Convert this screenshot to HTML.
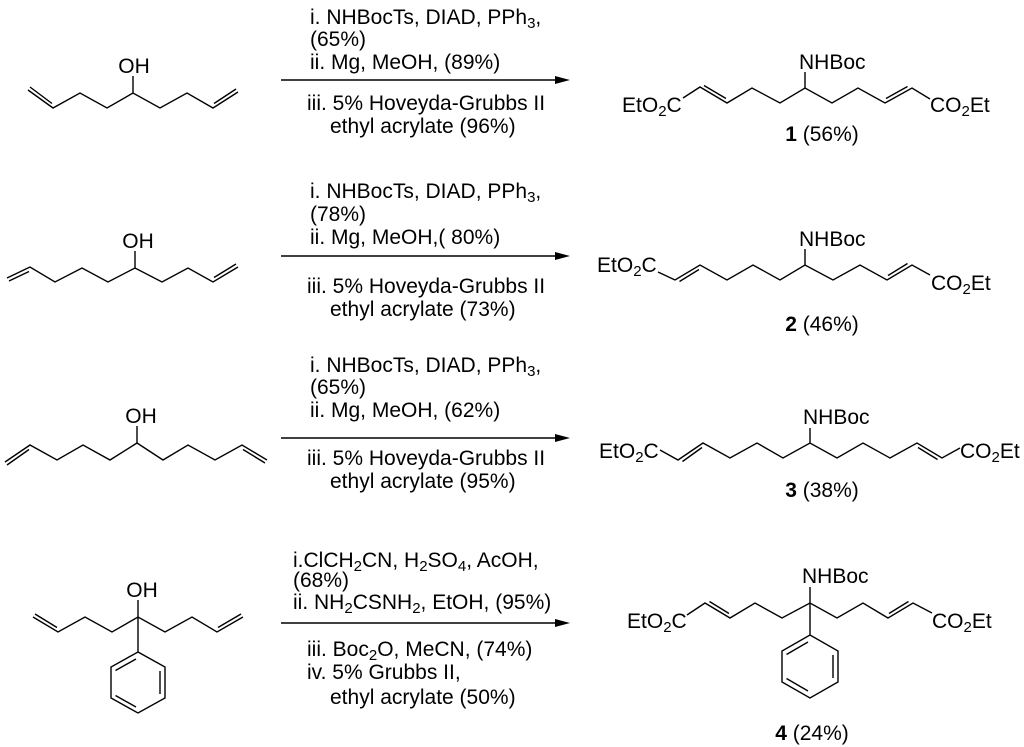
<!DOCTYPE html>
<html><head><meta charset="utf-8"><style>
html,body{margin:0;padding:0;background:#fff;}
svg{display:block;}
text{font-family:"Liberation Sans",Arial,sans-serif;fill:#000;}
.s{font-size:21px;}
.r{font-size:21px;}
.b{font-weight:bold;}
</style></head><body>
<svg width="1024" height="747" viewBox="0 0 1024 747" xmlns="http://www.w3.org/2000/svg">
<g fill="none" stroke="#000" stroke-width="1.4" stroke-linejoin="miter">
<polyline points="28,90 53,108 80,93 107,108 133,93 160,108 187,93 213,108 238,92"/>
<line x1="30" y1="87" x2="52" y2="103.5"/>
<line x1="214" y1="103.5" x2="236" y2="89"/>
<line x1="133" y1="93" x2="133" y2="76"/>
<polyline points="7,278 30,267 55,282 82,268 108,282 135,268 162,282 188,268 213,282 238,267"/>
<line x1="9" y1="281" x2="29" y2="271.5"/>
<line x1="214" y1="277.5" x2="236" y2="264"/>
<line x1="135" y1="268" x2="135" y2="251"/>
<polyline points="5,462 30,445 57,460 83,445 110,460 137,443 163,460 188,445 215,460 242,445 267,460"/>
<line x1="7" y1="465" x2="29" y2="449.5"/>
<line x1="243" y1="449.5" x2="265" y2="463"/>
<line x1="137" y1="443" x2="137" y2="426"/>
<polyline points="33,617 58,632 85,617 112,632 138,617 165,632 192,617 217,632 243,617"/>
<line x1="35" y1="614" x2="57" y2="627.5"/>
<line x1="218" y1="627.5" x2="241" y2="614"/>
<line x1="138" y1="617" x2="138" y2="600"/>
<line x1="138" y1="617" x2="138" y2="652"/>
<polygon points="138,652 165,667 165,698 138,713 111,698 111,667"/>
<line x1="115.5" y1="670.5" x2="136" y2="659"/>
<line x1="160" y1="671" x2="160" y2="694"/>
<line x1="115.5" y1="695.5" x2="136" y2="707"/>

<polyline points="683,98 700,87 727,103 752,88 780,103 805,88 832,103 858,88 885,103 912,88 930,99"/>
<line x1="704" y1="85.5" x2="726" y2="98.5"/>
<line x1="886" y1="98.5" x2="907.5" y2="86.5"/>
<line x1="805" y1="88" x2="805" y2="72"/>
<polyline points="658,272 675,280 700,265 727,280 753,265 780,280 805,265 833,280 860,265 887,280 912,265 930,275"/>
<line x1="679.5" y1="281.5" x2="699" y2="269.5"/>
<line x1="888" y1="275.5" x2="907.5" y2="263.5"/>
<line x1="805" y1="265" x2="805" y2="249"/>
<polyline points="660,450 678,460 703,443 730,458 757,443 783,458 810,443 837,458 863,443 890,458 917,443 942,458 960,448"/>
<line x1="682.5" y1="461.5" x2="702" y2="447.5"/>
<line x1="918" y1="447.5" x2="937.5" y2="459.5"/>
<line x1="810" y1="443" x2="810" y2="428"/>
<polyline points="687,615 705,603 730,618 755,603 782,618 810,603 837,618 863,603 888,618 913,603 932,613"/>
<line x1="709.5" y1="601.5" x2="729" y2="613.5"/>
<line x1="889" y1="613.5" x2="908.5" y2="601.5"/>
<line x1="810" y1="603" x2="810" y2="587"/>
<line x1="810" y1="603" x2="810" y2="635"/>
<polygon points="810,635 838,651 838,682 810,698 782,682 782,651"/>
<line x1="786.5" y1="654.5" x2="808" y2="642"/>
<line x1="833" y1="655" x2="833" y2="678"/>
<line x1="786.5" y1="678.5" x2="808" y2="691"/>

<line x1="281" y1="80" x2="558" y2="80"/>
<line x1="281" y1="256" x2="558" y2="256"/>
<line x1="281" y1="438" x2="558" y2="438"/>
<line x1="281" y1="623" x2="558" y2="623"/>
</g>
<g fill="#000">
<polygon points="570,80 555,76 555,84"/>
<polygon points="570,256 555,252 555,260"/>
<polygon points="570,438 555,434 555,442"/>
<polygon points="570,623 555,619 555,627"/>
</g>

<text class="s" x="134" y="73" text-anchor="middle">OH</text>
<text class="s" x="138" y="248" text-anchor="middle">OH</text>
<text class="s" x="141" y="423" text-anchor="middle">OH</text>
<text class="s" x="142" y="597" text-anchor="middle">OH</text>

<text class="r" x="310" y="24">i. NHBocTs, DIAD, PPh<tspan font-size="15" dy="4">3</tspan><tspan dy="-4">,</tspan></text>
<text class="r" x="310" y="46">(65%)</text>
<text class="r" x="310" y="69">ii. Mg, MeOH, (89%)</text>
<text class="r" x="307" y="110">iii. 5% Hoveyda-Grubbs II</text>
<text class="r" x="330" y="133">ethyl acrylate (96%)</text>
<text class="r" x="310" y="198">i. NHBocTs, DIAD, PPh<tspan font-size="15" dy="4">3</tspan><tspan dy="-4">,</tspan></text>
<text class="r" x="310" y="221">(78%)</text>
<text class="r" x="310" y="244">ii. Mg, MeOH,( 80%)</text>
<text class="r" x="307" y="293">iii. 5% Hoveyda-Grubbs II</text>
<text class="r" x="330" y="316">ethyl acrylate (73%)</text>
<text class="r" x="310" y="372">i. NHBocTs, DIAD, PPh<tspan font-size="15" dy="4">3</tspan><tspan dy="-4">,</tspan></text>
<text class="r" x="310" y="394">(65%)</text>
<text class="r" x="310" y="417">ii. Mg, MeOH, (62%)</text>
<text class="r" x="307" y="465">iii. 5% Hoveyda-Grubbs II</text>
<text class="r" x="330" y="488">ethyl acrylate (95%)</text>
<text class="r" x="293" y="567">i.ClCH<tspan font-size="15" dy="4">2</tspan><tspan dy="-4">CN, H</tspan><tspan font-size="15" dy="4">2</tspan><tspan dy="-4">SO</tspan><tspan font-size="15" dy="4">4</tspan><tspan dy="-4">, AcOH,</tspan></text>
<text class="r" x="293" y="587">(68%)</text>
<text class="r" x="293" y="609">ii. NH<tspan font-size="15" dy="4">2</tspan><tspan dy="-4">CSNH</tspan><tspan font-size="15" dy="4">2</tspan><tspan dy="-4">, EtOH, (95%)</tspan></text>
<text class="r" x="307" y="656">iii. Boc<tspan font-size="15" dy="4">2</tspan><tspan dy="-4">O, MeCN, (74%)</tspan></text>
<text class="r" x="307" y="679">iv. 5% Grubbs II,</text>
<text class="r" x="330" y="704">ethyl acrylate (50%)</text>

<text class="s" x="622" y="112">EtO<tspan font-size="15" dy="4">2</tspan><tspan dy="-4">C</tspan></text>
<text class="s" x="930" y="112">CO<tspan font-size="15" dy="4">2</tspan><tspan dy="-4">Et</tspan></text>
<text class="s" x="799" y="69">NHBoc</text>
<text class="s" x="822" y="141" text-anchor="middle"><tspan class="b">1</tspan> (56%)</text>
<text class="s" x="597" y="272">EtO<tspan font-size="15" dy="4">2</tspan><tspan dy="-4">C</tspan></text>
<text class="s" x="931" y="290">CO<tspan font-size="15" dy="4">2</tspan><tspan dy="-4">Et</tspan></text>
<text class="s" x="799" y="246">NHBoc</text>
<text class="s" x="822" y="331" text-anchor="middle"><tspan class="b">2</tspan> (46%)</text>
<text class="s" x="599" y="458">EtO<tspan font-size="15" dy="4">2</tspan><tspan dy="-4">C</tspan></text>
<text class="s" x="960" y="458">CO<tspan font-size="15" dy="4">2</tspan><tspan dy="-4">Et</tspan></text>
<text class="s" x="803" y="424">NHBoc</text>
<text class="s" x="822" y="497" text-anchor="middle"><tspan class="b">3</tspan> (38%)</text>
<text class="s" x="627" y="628">EtO<tspan font-size="15" dy="4">2</tspan><tspan dy="-4">C</tspan></text>
<text class="s" x="932" y="628">CO<tspan font-size="15" dy="4">2</tspan><tspan dy="-4">Et</tspan></text>
<text class="s" x="802" y="583">NHBoc</text>
<text class="s" x="812" y="740" text-anchor="middle"><tspan class="b">4</tspan> (24%)</text>
</svg>
</body></html>
